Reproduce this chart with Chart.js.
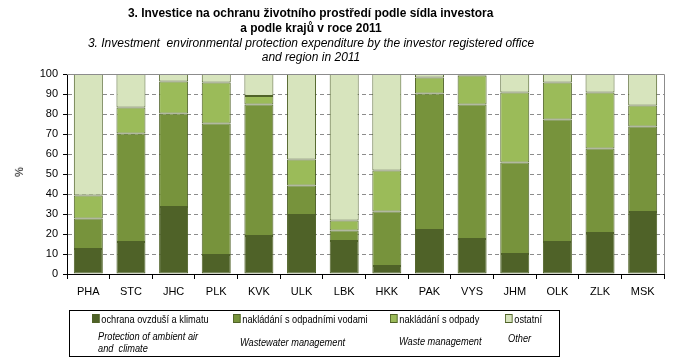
<!DOCTYPE html>
<html>
<head>
<meta charset="utf-8">
<script src="https://cdn.jsdelivr.net/npm/chart.js@4.4.1/dist/chart.umd.min.js"></script>
<style>
    body { margin: 0; background: #fff; }
    #wrap { position: relative; width: 682px; height: 364px; font-family: "Liberation Sans", Arial, sans-serif; color: #000; }
    #chart { position: absolute; left: 0; top: 0; }
    .t { position: absolute; left: 0; width: 622px; text-align: center; white-space: nowrap; }
    .tb { font-weight: bold; font-size: 13px; }
    .tb span { display: inline-block; transform: scaleX(0.92); }
    .ti { font-style: italic; font-size: 12px; }
    #ylab { position: absolute; left: 14px; top: 166px; font-size: 11px; transform: rotate(-90deg); }
    #legend { position: absolute; left: 69px; top: 310px; width: 489px; height: 45px; border: 1px solid #000; font-size: 11px; }
    .li, .en { position: absolute; white-space: nowrap; transform: scaleX(0.84); transform-origin: 0 0; }
    .sw { display: inline-block; width: 7px; height: 7px; border: 1px solid #4f6228; margin-right: 2px; vertical-align: 0px; }
    .en { font-style: italic; line-height: 12px; }
</style>
</head>
<body>
<div id="wrap">
    <canvas id="chart" width="682" height="364"></canvas>
    <div class="t tb" style="top:5px"><span>3. Investice na ochranu životního prostředí podle sídla investora</span></div>
    <div class="t tb" style="top:20px"><span>a podle krajů v roce 2011</span></div>
    <div class="t ti" style="top:36px">3. Investment&nbsp; environmental protection expenditure by the investor registered office</div>
    <div class="t ti" style="top:50px">and region in 2011</div>
    <div id="ylab">%</div>
    <div id="legend"></div>
</div>
<script>
    const categories = ['PHA', 'STC', 'JHC', 'PLK', 'KVK', 'ULK', 'LBK', 'HKK', 'PAK', 'VYS', 'JHM', 'OLK', 'ZLK', 'MSK'];
    const ovzdusi = [12.5, 16, 33.5, 9.5, 19, 29.5, 16.5, 4, 22, 17.5, 10, 16, 20.5, 31];
    const odpadniVody = [15.3, 54.3, 46.8, 65.8, 65.8, 14.8, 5.2, 27.3, 68.3, 67.3, 45.8, 61.3, 42.3, 42.8];
    const odpady = [11.5, 13, 16, 20.4, 4.2, 13, 5.1, 20.5, 8, 14.5, 35, 18.5, 28, 10.5];
    const ostatni = [60.7, 16.7, 3.7, 4.3, 11, 42.7, 73.2, 48.2, 1.7, 0.7, 9.2, 4.2, 9.2, 15.7];

    const seriesCz = ['ochrana ovzduší a klimatu', 'nakládání s odpadními vodami', 'nakládání s odpady', 'ostatní'];
    const seriesEn = ['Protection of ambient air<br>and&nbsp; climate', 'Wastewater management', 'Waste management', 'Other'];
    const colors = ['#4f6228', '#77933c', '#9bbb59', '#d7e4bd'];

    buildLegend();
    renderChart();

    function buildLegend() {
        const legend = document.getElementById('legend');
        const czX = [22, 163, 320, 435];
        const enX = [28, 170, 329, 438];
        const enY = [19, 25, 24, 21];
        seriesCz.forEach((name, i) => {
            const item = document.createElement('div');
            item.className = 'li';
            item.style.left = czX[i] + 'px';
            item.style.top = '2px';
            item.innerHTML = '<span class="sw" style="background:' + colors[i] + '"></span>' + name;
            legend.appendChild(item);

            const en = document.createElement('div');
            en.className = 'en';
            en.style.left = enX[i] + 'px';
            en.style.top = enY[i] + 'px';
            en.innerHTML = seriesEn[i];
            legend.appendChild(en);
        });
    }

    function renderChart() {
        const values = [ovzdusi, odpadniVody, odpady, ostatni];
        const datasets = values.map((data, i) => {
            return {
                label: seriesCz[i],
                data: data,
                backgroundColor: colors[i],
                borderColor: '#4f6228',
                borderWidth: 1,
                borderSkipped: false,
                barPercentage: 0.68,
                categoryPercentage: 1,
            };
        });

        // gray frame on top and right of the plot area
        const framePlugin = {
            id: 'frame',
            afterDraw(chart) {
                const { ctx, chartArea: a } = chart;
                ctx.save();
                ctx.strokeStyle = '#8c8c8c';
                ctx.lineWidth = 1;
                ctx.beginPath();
                ctx.moveTo(a.left, a.top + 0.5);
                ctx.lineTo(a.right + 0.5, a.top + 0.5);
                ctx.lineTo(a.right + 0.5, a.bottom);
                ctx.stroke();
                ctx.restore();
            }
        };

        new Chart(document.getElementById('chart'), {
            type: 'bar',
            data: { labels: categories, datasets: datasets },
            plugins: [framePlugin],
            options: {
                responsive: false,
                animation: false,
                layout: { padding: { left: 0, right: 18, top: 74, bottom: 0 } },
                plugins: { legend: { display: false }, tooltip: { enabled: false } },
                scales: {
                    x: {
                        stacked: true,
                        afterFit: (scale) => { scale.height = 90; },
                        grid: { drawOnChartArea: false, offset: true, tickLength: 5, tickColor: '#000' },
                        border: { color: '#000' },
                        ticks: { color: '#000', padding: 6, font: { family: 'Liberation Sans', size: 11 } },
                    },
                    y: {
                        stacked: true,
                        min: 0,
                        max: 100,
                        afterFit: (scale) => { scale.width = 67; },
                        grid: { color: '#8c8c8c', tickLength: 4, tickColor: '#000' },
                        border: { color: '#000', dash: [4, 3] },
                        ticks: { stepSize: 10, color: '#000', padding: 5, font: { family: 'Liberation Sans', size: 11 } },
                    }
                }
            }
        });
    }
</script>
</body>
</html>
